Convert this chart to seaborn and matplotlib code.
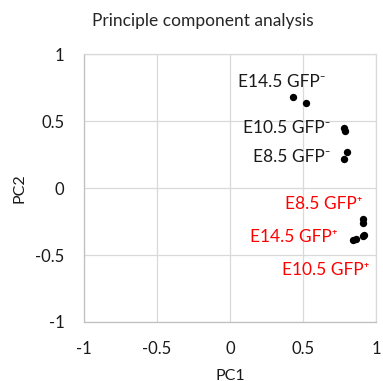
import matplotlib
matplotlib.use("Agg")
import matplotlib.pyplot as plt
import seaborn as sns
import pandas as pd

# PCA scores
pc1 = [0.43, 0.52, 0.78, 0.79, 0.80, 0.78, 0.91, 0.91, 0.91, 0.92, 0.84, 0.86]
pc2 = [0.68, 0.64, 0.45, 0.43, 0.27, 0.22, -0.23, -0.26, -0.36, -0.35, -0.39, -0.38]
groups = ["E14.5 GFP⁻", "E14.5 GFP⁻", "E10.5 GFP⁻", "E10.5 GFP⁻",
          "E8.5 GFP⁻", "E8.5 GFP⁻", "E8.5 GFP⁺", "E8.5 GFP⁺",
          "E10.5 GFP⁺", "E10.5 GFP⁺", "E14.5 GFP⁺", "E14.5 GFP⁺"]
ticks = [-1, -0.5, 0, 0.5, 1]
tick_labels = ["-1", "-0.5", "0", "0.5", "1"]

df = pd.DataFrame({"PC1": pc1, "PC2": pc2, "group": groups})

sns.set_theme(style="whitegrid")
plt.rcParams["font.family"] = ["Lato", "DejaVu Sans"]

fig = plt.figure(figsize=(3.83, 3.81), dpi=100)
ax = fig.add_axes([0.219, 0.155, 0.763, 0.702])

sns.scatterplot(data=df, x="PC1", y="PC2", color="black", s=28,
                edgecolor="black", linewidth=0, ax=ax, legend=False, zorder=3)

ax.set_xlim(-1, 1)
ax.set_ylim(-1, 1)
ax.set_xticks(ticks)
ax.set_xticklabels(tick_labels)
ax.set_yticks(ticks)
ax.set_yticklabels(tick_labels)
ax.tick_params(axis="both", labelsize=12, colors="#1a1a1a", length=0)
ax.tick_params(axis="x", pad=14)
ax.tick_params(axis="y", pad=14)
ax.grid(True, color="#d9d9d9", linewidth=0.9)
for sp in ax.spines.values():
    sp.set_color("#d9d9d9")
    sp.set_linewidth(0.9)
ax.spines["left"].set_color("#bfbfbf")
ax.spines["bottom"].set_color("#bfbfbf")

ax.set_xlabel("PC1", fontsize=11.5, labelpad=8, color="#1a1a1a")
ax.set_ylabel("PC2", fontsize=11.5, labelpad=6, color="#1a1a1a")
fig.suptitle("Principle component analysis", x=0.53, y=0.965, fontsize=12.5)

# label offsets (pixels) relative to the first dot of each group
offsets = {
    "E14.5 GFP⁻": (33, 15),
    "E10.5 GFP⁻": (-14, 0),
    "E8.5 GFP⁻": (-16, -5),
    "E8.5 GFP⁺": (0, 15),
    "E10.5 GFP⁺": (7, -34),
    "E14.5 GFP⁺": (-15, 3),
}
for g, (dx, dy) in offsets.items():
    row = df[df["group"] == g].iloc[0]
    col = "red" if "⁺" in g else "#1a1a1a"
    ax.annotate(g, (row["PC1"], row["PC2"]), xytext=(dx, dy),
                textcoords="offset pixels", ha="right", va="center",
                fontsize=12.5, color=col)

fig.savefig("out.png", dpi=100)
